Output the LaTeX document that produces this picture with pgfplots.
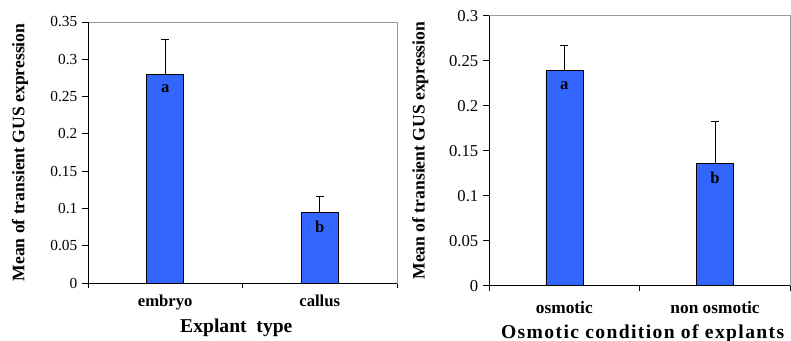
\documentclass[border=0pt]{standalone}
\usepackage{pgfplots}
\pgfplotsset{compat=1.18}
\usepackage{pgfplotstable}
\usepackage{fontspec}
\setmainfont{Liberation Serif}
\definecolor{barblue}{RGB}{51,102,255}

\pgfplotstableread{
x y e l
1 0.280 0.046 a
2 0.095 0.021 b
}\leftdata
\pgfplotstableread{
x y e l
1 0.239 0.028 a
2 0.136 0.046 b
}\rightdata

\pgfplotsset{
 gusstyle/.style={
  scale only axis,
  clip=false,
  ybar, bar width=27.75pt,
  xmin=0.5, xmax=2.5,
  ymin=0,
  xtick={1,2},
  minor xtick={0.5,1.5,2.5},
  tick align=outside,
  tick pos=left,
  major x tick style={draw=none},
  minor x tick style={black, line width=0.6pt},
  ytick style={black, line width=0.6pt},
  minor tick length=4pt,
  major tick length=4.5pt,
  axis line style={draw=black!40, line width=0.6pt},
  yticklabel style={/pgf/number format/fixed, /pgf/number format/precision=2, /pgf/number format/assume math mode=true},
  point meta=explicit symbolic,
  nodes near coords,
  every node near coord/.append style={anchor=center, yshift=-11pt, font=\bfseries\fontsize{12.5}{13}\selectfont, black},
 },
 gusbar/.style={fill=barblue, draw=black, line width=0.5pt,
   error bars/.cd, y dir=plus, y explicit,
   error bar style={black, line width=0.6pt},
   error mark options={rotate=90, black, mark size=3pt, line width=0.6pt}},
}

\begin{document}
\begin{tikzpicture}
\useasboundingbox (0,0) rectangle (593.25pt,255.75pt);
% left panel
\begin{axis}[gusstyle,
  at={(66pt,43.5pt)}, anchor=south west,
  width=231.75pt, height=195.75pt,
  ymax=0.35,
  ytick={0,0.05,0.1,0.15,0.2,0.25,0.3,0.35},
  xticklabels={embryo,callus},
  yticklabel style={font=\fontsize{11.5}{12}\selectfont},
  xticklabel style={font=\bfseries\fontsize{12.5}{13}\selectfont, yshift=-1pt},
  ylabel={Mean of transient GUS expression},
  every axis y label/.style={at={(axis description cs:-0.22,0.5)}, rotate=90, anchor=center, font=\bfseries\fontsize{13.2}{14}\selectfont},
  xlabel={Explant\ \ type},
  every axis x label/.style={at={(axis description cs:0.48,-0.172)}, anchor=center, font=\bfseries\fontsize{14.7}{16}\selectfont},
]
\addplot[gusbar] table[x=x, y=y, y error=e, meta=l] {\leftdata};
\draw[black, line width=0.7pt] (rel axis cs:0,1) -- (rel axis cs:0,0) -- (rel axis cs:1,0);
\end{axis}
% right panel
\begin{axis}[gusstyle,
  at={(366.75pt,41.5pt)}, anchor=south west,
  width=226pt, height=202.5pt,
  ymax=0.3,
  ytick={0,0.05,0.1,0.15,0.2,0.25,0.3},
  xticklabels={osmotic,non osmotic},
  yticklabel style={font=\fontsize{12.5}{13}\selectfont},
  xticklabel style={font=\bfseries\fontsize{13}{14}\selectfont, yshift=-4pt},
  ylabel={Mean of transient GUS expression},
  every axis y label/.style={at={(axis description cs:-0.228,0.5)}, rotate=90, anchor=center, font=\bfseries\fontsize{13.2}{14}\selectfont},
  xlabel={Osmotic\ condition\ of\ explants},
  every axis x label/.style={at={(axis description cs:0.51,-0.178)}, anchor=center, font=\bfseries\fontsize{14.7}{16}\selectfont\addfontfeatures{LetterSpace=7}},
]
\addplot[gusbar] table[x=x, y=y, y error=e, meta=l] {\rightdata};
\draw[black, line width=0.7pt] (rel axis cs:0,1) -- (rel axis cs:0,0) -- (rel axis cs:1,0);
\end{axis}
\end{tikzpicture}
\end{document}
